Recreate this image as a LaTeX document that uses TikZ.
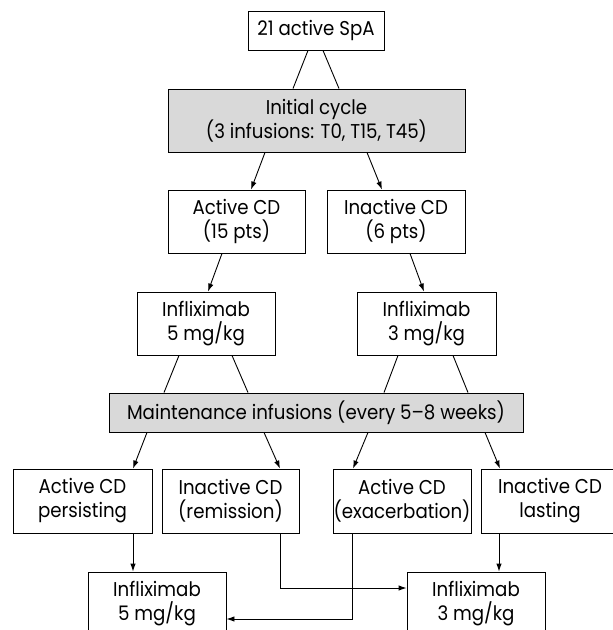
\documentclass[tikz,border=0pt]{standalone}
\usepackage{fontspec}
\setmainfont[FakeStretch=0.91]{Poppins}
\usetikzlibrary{arrows.meta, positioning}

\tikzset{
    box/.style={draw, line width=0.9pt, minimum width=138pt, minimum height=63pt,
        inner sep=0pt, align=center, font=\fontsize{20}{24}\selectfont},
    greybox/.style={box, fill=black!15},
    link/.style={line width=0.9pt},
    arrow/.style={link, -{Latex[length=8pt, width=5.5pt]}}
}

\begin{document}
\begin{tikzpicture}[x=1pt, y=-1pt]
    \useasboundingbox (0,0) rectangle (613,630);

    % treatment start
    \node[box, minimum width=136pt, minimum height=39pt] (patients) at (316,30.5) {21 active SpA};
    \node[greybox, minimum width=297pt] (initial) at (316.5,120.5) {Initial cycle\\(3 infusions: T0, T15, T45)};

    \node[box, minimum width=137pt] (activeCD) at (236.5,221.5) {Active CD\\(15 pts)};
    \node[box] (inactiveCD) at (396,221.5) {Inactive CD\\(6 pts)};

    \node[box] (doseFive) at (206,323.5) {Infliximab\\5 mg/kg};
    \node[box, minimum width=139pt] (doseThree) at (426.5,323.5) {Infliximab\\3 mg/kg};

    % maintenance
    \node[greybox, minimum width=414pt, minimum height=39pt] (maintenance) at (316,412.5) {Maintenance infusions (every 5--8 weeks)};

    \node[box, minimum width=139pt, minimum height=64pt] (persisting) at (82.5,501) {Active CD\\persisting};
    \node[box, minimum width=137pt, minimum height=64pt] (remission) at (230.5,501) {Inactive CD\\(remission)};
    \node[box, minimum width=138pt, minimum height=64pt] (exacerbation) at (402,501) {Active CD\\(exacerbation)};
    \node[box, minimum height=64pt] (lasting) at (550,501) {Inactive CD\\lasting};

    \node[box] (finalFive) at (157,603.5) {Infliximab\\5 mg/kg};
    \node[box] (finalThree) at (476,603.5) {Infliximab\\3 mg/kg};

    \draw[link] ([xshift=-8pt]patients.south) -- ([xshift=-23.5pt]initial.north);
    \draw[link] ([xshift=7pt]patients.south) -- ([xshift=22.5pt]initial.north);

    \draw[arrow] ([xshift=-51.5pt]initial.south) -- ([xshift=14.5pt]activeCD.north);
    \draw[arrow] ([xshift=50.5pt]initial.south) -- ([xshift=-14pt]inactiveCD.north);
    \draw[arrow] ([xshift=-14.5pt]activeCD.south) -- ([xshift=2pt]doseFive.north);
    \draw[arrow] ([xshift=14pt]inactiveCD.south) -- ([xshift=-2.5pt]doseThree.north);

    \draw[link] ([xshift=-27pt]doseFive.south) -- ([xshift=-152pt]maintenance.north);
    \draw[link] ([xshift=26pt]doseFive.south) -- ([xshift=-68pt]maintenance.north);
    \draw[link] ([xshift=-28.5pt]doseThree.south) -- ([xshift=68pt]maintenance.north);
    \draw[link] ([xshift=26.5pt]doseThree.south) -- ([xshift=152pt]maintenance.north);

    \draw[arrow] ([xshift=-169pt]maintenance.south) -- ([xshift=50.5pt]persisting.north);
    \draw[arrow] ([xshift=-52pt]maintenance.south) -- ([xshift=49.5pt]remission.north);
    \draw[arrow] ([xshift=52pt]maintenance.south) -- ([xshift=-49pt]exacerbation.north);
    \draw[arrow] ([xshift=169pt]maintenance.south) -- ([xshift=-50pt]lasting.north);

    \draw[arrow] ([xshift=50.5pt]persisting.south) -- ([xshift=50.5pt]persisting.south |- finalFive.north);
    \draw[arrow] ([xshift=-51pt]lasting.south) -- ([xshift=-51pt]lasting.south |- finalThree.north);
    \draw[arrow] ([xshift=49.5pt]remission.south) |- ([yshift=15.5pt]finalThree.west);
    \draw[arrow] ([xshift=-50pt]exacerbation.south) |- ([yshift=-15.5pt]finalFive.east);
\end{tikzpicture}
\end{document}
